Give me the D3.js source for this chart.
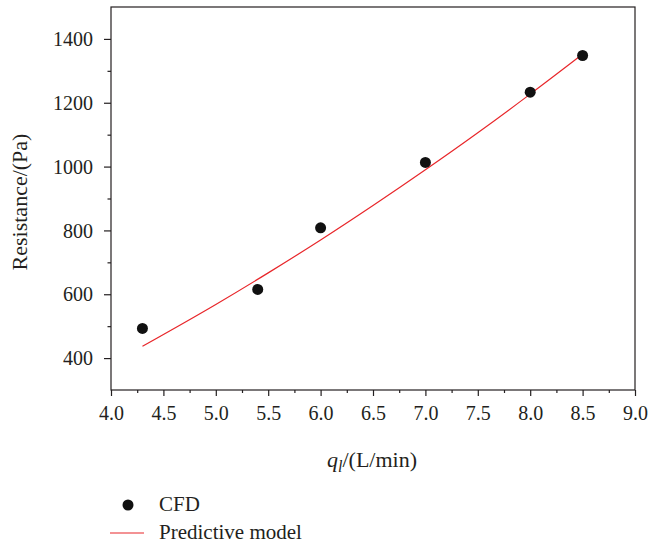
<!DOCTYPE html>
<html>
<head>
<meta charset="utf-8">
<script src="https://cdn.jsdelivr.net/npm/d3@7"></script>
<style>
    body { margin: 0; background: #fff; }
    text { font-family: "Liberation Serif", "DejaVu Serif", serif; fill: #231f20; }
</style>
</head>
<body>
<svg id="chart" width="649" height="550"></svg>
<script>
    // CFD points
    const cfdX = [4.3, 5.4, 6.0, 7.0, 8.0, 8.5];
    const cfdY = [493, 615, 808, 1013, 1233, 1348];
    // predictive model curve
    const modelX = [4.3, 5.0, 5.5, 6.0, 6.5, 7.0, 7.5, 8.0, 8.5];
    const modelY = [437, 568, 667, 770, 878, 990, 1106, 1227, 1352];
    const xTicks = [4.0, 4.5, 5.0, 5.5, 6.0, 6.5, 7.0, 7.5, 8.0, 8.5, 9.0];
    const yTicks = [400, 600, 800, 1000, 1200, 1400];

    const svg = d3.select("#chart");
    const mLeft = 111, mRight = 635, mTop = 7, mBottom = 390;

    const x = d3.scaleLinear().domain([4, 9]).range([mLeft, mRight]);
    const y = d3.scaleLinear().domain([300, 1500]).range([mBottom, mTop]);

    const axisColor = "#231f20";

    // frame
    svg.append("rect")
        .attr("x", mLeft).attr("y", mTop)
        .attr("width", mRight - mLeft).attr("height", mBottom - mTop)
        .attr("fill", "none").attr("stroke", axisColor).attr("stroke-width", 1.2);

    // minor ticks
    const xMinor = d3.range(4.25, 9, 0.5);
    const yMinor = d3.range(500, 1500, 200);

    const gx = svg.append("g").attr("transform", `translate(0,${mBottom})`);
    gx.call(d3.axisBottom(x).tickValues(xTicks).tickSize(6).tickFormat(d3.format(".1f")));
    gx.append("g").call(d3.axisBottom(x).tickValues(xMinor).tickSize(3).tickFormat(""));

    const gy = svg.append("g").attr("transform", `translate(${mLeft},0)`);
    gy.call(d3.axisLeft(y).tickValues(yTicks).tickSize(7).tickFormat(d3.format("d")));
    gy.append("g").call(d3.axisLeft(y).tickValues(yMinor).tickSize(3.5).tickFormat(""));

    svg.selectAll(".domain").remove();
    svg.selectAll(".tick line").attr("stroke", axisColor).attr("stroke-width", 1.2);
    gx.selectAll(".tick text").attr("font-size", 20).attr("y", 30).attr("dy", 0)
        .attr("fill", axisColor);
    gy.selectAll(".tick text").attr("font-size", 20).attr("x", -18).attr("dy", "0.33em")
        .attr("fill", axisColor);

    // model line
    const line = d3.line().x(d => x(d[0])).y(d => y(d[1])).curve(d3.curveMonotoneX);
    svg.append("path")
        .datum(d3.zip(modelX, modelY))
        .attr("d", line)
        .attr("fill", "none")
        .attr("stroke", "#e8262a")
        .attr("stroke-width", 1.2);

    // CFD points
    svg.selectAll("circle.cfd")
        .data(d3.zip(cfdX, cfdY))
        .enter()
        .append("circle")
        .attr("class", "cfd")
        .attr("cx", d => x(d[0]))
        .attr("cy", d => y(d[1]))
        .attr("r", 5.5)
        .attr("fill", "#111");

    // axis titles
    svg.append("text")
        .attr("transform", "translate(27,202) rotate(-90)")
        .attr("text-anchor", "middle")
        .attr("font-size", 22)
        .text("Resistance/(Pa)");

    const xt = svg.append("text")
        .attr("x", 372).attr("y", 467)
        .attr("text-anchor", "middle")
        .attr("font-size", 22);
    xt.append("tspan").attr("font-style", "italic").text("q");
    xt.append("tspan").attr("font-style", "italic").attr("font-size", 16).attr("dy", 5).text("l");
    xt.append("tspan").attr("dy", -5).text("/(L/min)");

    // legend
    svg.append("circle").attr("cx", 128).attr("cy", 505).attr("r", 5.5).attr("fill", "#111");
    svg.append("text").attr("x", 159).attr("y", 511).attr("font-size", 21).text("CFD");
    svg.append("line").attr("x1", 110).attr("x2", 144).attr("y1", 533).attr("y2", 533)
        .attr("stroke", "#e8262a").attr("stroke-width", 1.2);
    svg.append("text").attr("x", 159).attr("y", 539).attr("font-size", 21).text("Predictive model");
</script>
</body>
</html>
